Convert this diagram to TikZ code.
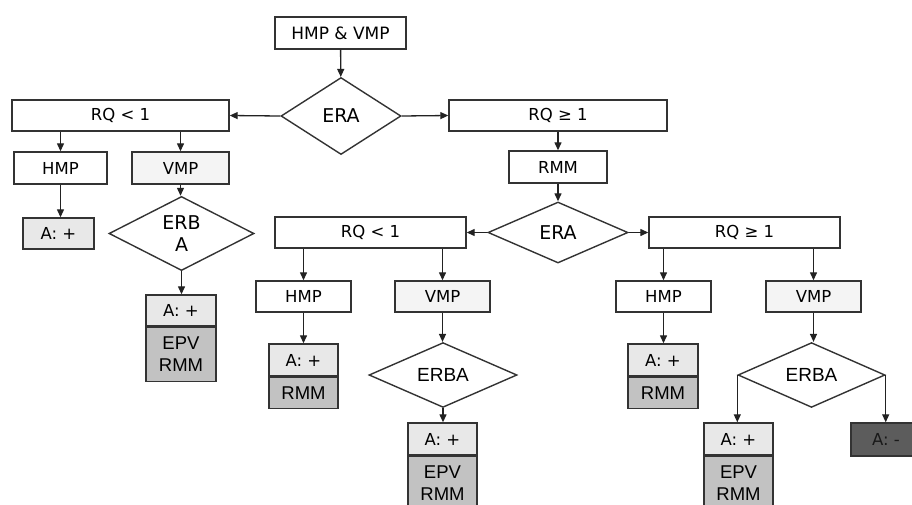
\documentclass[tikz,border=0pt]{standalone}
\usepackage{fontspec}
\setmainfont{DejaVu Sans}
\newfontfamily\arialf{Liberation Sans}
\usetikzlibrary{shapes.geometric,arrows.meta}
\definecolor{bc}{HTML}{333333}
\definecolor{ac}{HTML}{222222}
\definecolor{lightf}{HTML}{E8E8E8}
\definecolor{vmpf}{HTML}{F4F4F4}
\definecolor{midf}{HTML}{C2C2C2}
\definecolor{darkf}{HTML}{5C5C5C}
\tikzset{
  box/.style={draw=bc, line width=1.4pt, inner sep=0pt, minimum height=31pt,
    font=\fontsize{16.5}{19}\selectfont, align=center},
  vbox/.style={box, fill=vmpf},
  abox/.style={box, fill=lightf, minimum width=70pt},
  ebox/.style={box, fill=midf, minimum width=70pt, anchor=north,
    font=\arialf\fontsize{18.5}{22}\selectfont},
  dia/.style={diamond, draw=bc, line width=1.4pt, inner sep=0pt,
    font=\fontsize{19}{22}\selectfont, align=center},
  arr/.style={-{Triangle[length=8pt,width=7pt]}, line width=1.3pt, draw=ac},
}
\begin{document}
\begin{tikzpicture}[x=1pt,y=-1pt]
\useasboundingbox (0,0) rectangle (912,504);
\clip (0,0) rectangle (912,504);
% top level
\node[box, minimum width=131pt, minimum height=32pt, font=\fontsize{17}{20}\selectfont] (top) at (340.5,33) {HMP \& VMP};
\node[dia, minimum width=120pt, minimum height=77pt] (era1) at (341,116) {ERA};
\node[box, minimum width=217pt] (l1) at (120.5,115.5) {RQ < 1};
\node[box, minimum width=218pt] (r1) at (558,115.5) {RQ ≥ 1};
% left branch
\node[box, minimum width=93pt, minimum height=32pt] (hmpa) at (60.5,168) {HMP};
\node[vbox, minimum width=97pt, minimum height=32pt] (vmpa) at (180.5,168) {VMP};
\node[abox, minimum width=71pt] (apa) at (58.5,233.5) {A: +};
\node[dia, minimum width=145pt, minimum height=61pt] (erba1) at (181.5,233.5) {ERB\\A};
\node[abox, minimum height=31pt] (s1a) at (181,310.5) {A: +};
\node[ebox, minimum height=54pt] (s1b) at (s1a.south) {EPV\\RMM};
% right branch
\node[box, minimum width=98pt, minimum height=32pt] (rmm) at (558,167) {RMM};
\node[dia, minimum width=140pt, minimum height=61pt] (era2) at (558,232.5) {ERA};
\node[box, minimum width=191pt] (l2) at (370.5,232.5) {RQ < 1};
\node[box, minimum width=191pt] (r2) at (744.5,232.5) {RQ ≥ 1};
\node[box, minimum width=95pt] (hmpb) at (303.5,296.5) {HMP};
\node[vbox, minimum width=95pt] (vmpb) at (442.5,296.5) {VMP};
\node[box, minimum width=95pt] (hmpc) at (663.5,296.5) {HMP};
\node[vbox, minimum width=95pt] (vmpc) at (813.5,296.5) {VMP};
\node[abox, minimum width=69pt, minimum height=32pt] (s2a) at (303.5,360) {A: +};
\node[ebox, minimum width=69pt, minimum height=31pt] (s2b) at (s2a.south) {RMM};
\node[abox, minimum width=70pt, minimum height=32pt] (s3a) at (663,360) {A: +};
\node[ebox, minimum width=70pt, minimum height=31pt] (s3b) at (s3a.south) {RMM};
\node[dia, minimum width=148pt, minimum height=60pt, font=\arialf\fontsize{19}{22}\selectfont] (erbb) at (443,375) {ERBA};
\node[dia, minimum width=147pt, minimum height=60pt, font=\arialf\fontsize{19}{22}\selectfont] (erbc) at (811.5,375) {ERBA};
\node[abox, minimum width=69pt, minimum height=32pt] (s4a) at (442.5,439) {A: +};
\node[ebox, minimum width=69pt, minimum height=54pt] (s4b) at (s4a.south) {EPV\\RMM};
\node[abox, minimum width=69pt, minimum height=32pt] (s5a) at (738.5,439) {A: +};
\node[ebox, minimum width=69pt, minimum height=54pt] (s5b) at (s5a.south) {EPV\\RMM};
\node[box, fill=darkf, minimum width=70pt, minimum height=33pt, text=black!90] (am) at (886,439.5) {A: -};
% connectors
\draw[arr] (top) -- (era1);
\draw[arr] (era1.west) -- (l1.east);
\draw[arr] (era1.east) -- (r1.west);
\draw[arr] (l1.south -| hmpa) -- (hmpa.north);
\draw[arr] (l1.south -| vmpa) -- (vmpa.north);
\draw[arr] (hmpa.south) -- (hmpa.south |- apa.north);
\draw[arr] (vmpa.south) -- (vmpa.south |- erba1.north);
\draw[arr] (erba1.south) -- (erba1.south |- s1a.north);
\draw[arr] (r1.south) -- (rmm.north);
\draw[arr] (rmm.south) -- (era2.north);
\draw[arr] (era2.west) -- (l2.east);
\draw[arr] (era2.east) -- (r2.west);
\draw[arr] (l2.south -| hmpb) -- (hmpb.north);
\draw[arr] (l2.south -| vmpb) -- (vmpb.north);
\draw[arr] (r2.south -| hmpc) -- (hmpc.north);
\draw[arr] (r2.south -| vmpc) -- (vmpc.north);
\draw[arr] (hmpb.south) -- (hmpb.south |- s2a.north);
\draw[arr] (hmpc.south) -- (hmpc.south |- s3a.north);
\draw[arr] (vmpb.south) -- (vmpb.south |- erbb.north);
\draw[arr] (vmpc.south) -- (vmpc.south |- erbc.north);
\draw[arr] (erbb.south) -- (erbb.south |- s4a.north);
\draw[arr] (erbc.west) -- (erbc.west |- s5a.north);
\draw[arr] (erbc.east) -- (erbc.east |- am.north);
\end{tikzpicture}
\end{document}
